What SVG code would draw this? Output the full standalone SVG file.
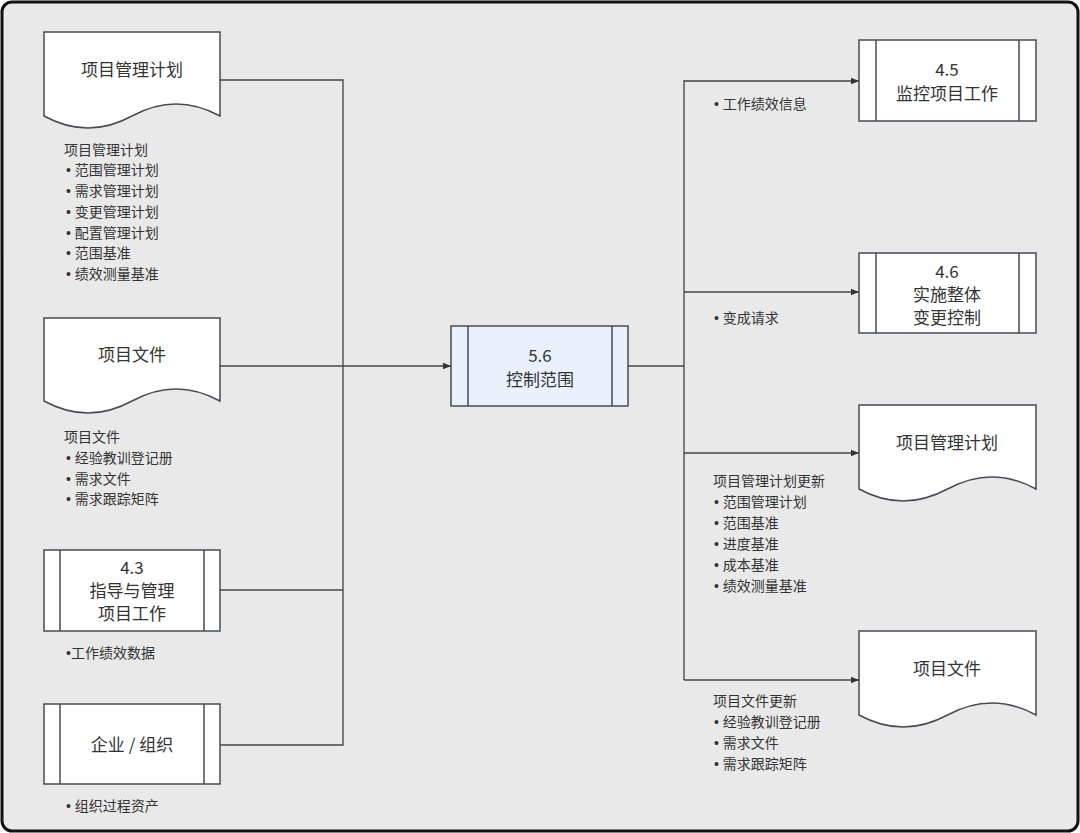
<svg xmlns="http://www.w3.org/2000/svg" width="1080" height="833" viewBox="0 0 1080 833">
<style>
.frame{fill:#e9e9e9;stroke:#111;stroke-width:3}
.box{fill:#fff;stroke:#4a4a55;stroke-width:1.5}
.blue{fill:#eaf1fc}
.in{stroke:#4a4a55;stroke-width:1.5;fill:none}
.conn{fill:none;stroke:#444;stroke-width:1.3}
text{font-family:"Noto Sans CJK SC","Noto Sans",sans-serif;fill:#333}
.lbl{font-size:17px;text-anchor:middle}
.sm{font-size:14px;font-family:"Liberation Sans","Noto Sans CJK SC",sans-serif}
</style>
<defs>
<marker id="arr" viewBox="0 0 10 10" refX="10" refY="5" markerWidth="8" markerHeight="8" markerUnits="userSpaceOnUse" orient="auto">
<path d="M0,1 L10,5 L0,9 Z" fill="#333"/>
</marker>
</defs>
<rect class="frame" x="2" y="2" width="1076" height="829" rx="10"/>

<g id="connectors">
<path class="conn" d="M220,80 H343 V745 H220"/>
<path class="conn" d="M220,366 H343"/>
<path class="conn" d="M220,590 H343"/>
<path class="conn" d="M343,366 H451" marker-end="url(#arr)"/>
<path class="conn" d="M628,366 H684"/>
<path class="conn" d="M684,80 V680"/>
<path class="conn" d="M684,81 H859" marker-end="url(#arr)"/>
<path class="conn" d="M684,292 H859" marker-end="url(#arr)"/>
<path class="conn" d="M684,453 H859" marker-end="url(#arr)"/>
<path class="conn" d="M684,680 H859" marker-end="url(#arr)"/>
</g>

<g id="doc-pmp-in">
<path class="box" d="M44,32 H220 V116 Q176,92 132,116 T44,116 Z"/>
<text class="lbl" x="132" y="76">项目管理计划</text>
</g>
<g id="list-pmp-in">
<text class="sm" x="64" y="155">项目管理计划</text>
<text class="sm" x="66" y="175">•  范围管理计划</text>
<text class="sm" x="66" y="196">•  需求管理计划</text>
<text class="sm" x="66" y="217">•  变更管理计划</text>
<text class="sm" x="66" y="238">•  配置管理计划</text>
<text class="sm" x="66" y="258">•  范围基准</text>
<text class="sm" x="66" y="279">•  绩效测量基准</text>
</g>

<g id="doc-pd-in">
<path class="box" d="M44,318 H220 V401 Q176,377 132,401 T44,401 Z"/>
<text class="lbl" x="132" y="361">项目文件</text>
</g>
<g id="list-pd-in">
<text class="sm" x="64" y="442">项目文件</text>
<text class="sm" x="66" y="463">•  经验教训登记册</text>
<text class="sm" x="66" y="484">•  需求文件</text>
<text class="sm" x="66" y="504">•  需求跟踪矩阵</text>
</g>

<g id="p43">
<rect class="box" x="44" y="550" width="176" height="81"/>
<path class="in" d="M60,550 V631 M204,550 V631"/>
<text class="lbl" x="132" y="574">4.3</text>
<text class="lbl" x="132" y="597">指导与管理</text>
<text class="lbl" x="132" y="620">项目工作</text>
</g>
<text class="sm" x="66" y="658">•工作绩效数据</text>

<g id="org">
<rect class="box" x="44" y="704" width="176" height="80"/>
<path class="in" d="M60,704 V784 M204,704 V784"/>
<text class="lbl" x="132" y="751">企业 / 组织</text>
</g>
<text class="sm" x="66" y="811">•  组织过程资产</text>

<g id="p56">
<rect class="box blue" x="451" y="326" width="177" height="80"/>
<path class="in" d="M468,326 V406 M612,326 V406"/>
<text class="lbl" x="540" y="362">5.6</text>
<text class="lbl" x="540" y="386">控制范围</text>
</g>

<g id="p45">
<rect class="box" x="859" y="40" width="177" height="81"/>
<path class="in" d="M876,40 V121 M1019,40 V121"/>
<text class="lbl" x="947" y="76">4.5</text>
<text class="lbl" x="947" y="100">监控项目工作</text>
</g>
<text class="sm" x="714" y="109">•  工作绩效信息</text>

<g id="p46">
<rect class="box" x="859" y="253" width="177" height="80"/>
<path class="in" d="M876,253 V333 M1019,253 V333"/>
<text class="lbl" x="947" y="278">4.6</text>
<text class="lbl" x="947" y="301">实施整体</text>
<text class="lbl" x="947" y="324">变更控制</text>
</g>
<text class="sm" x="714" y="323">•  变成请求</text>

<g id="doc-pmp-out">
<path class="box" d="M859,405 H1036 V489 Q992,465 947.5,489 T859,489 Z"/>
<text class="lbl" x="947" y="449">项目管理计划</text>
</g>
<g id="list-pmp-out">
<text class="sm" x="713" y="486">项目管理计划更新</text>
<text class="sm" x="714" y="507">•  范围管理计划</text>
<text class="sm" x="714" y="528">•  范围基准</text>
<text class="sm" x="714" y="549">•  进度基准</text>
<text class="sm" x="714" y="570">•  成本基准</text>
<text class="sm" x="714" y="591">•  绩效测量基准</text>
</g>

<g id="doc-pd-out">
<path class="box" d="M859,631 H1036 V715 Q992,691 947.5,715 T859,715 Z"/>
<text class="lbl" x="947" y="675">项目文件</text>
</g>
<g id="list-pd-out">
<text class="sm" x="713" y="706">项目文件更新</text>
<text class="sm" x="714" y="727">•  经验教训登记册</text>
<text class="sm" x="714" y="748">•  需求文件</text>
<text class="sm" x="714" y="769">•  需求跟踪矩阵</text>
</g>
</svg>
